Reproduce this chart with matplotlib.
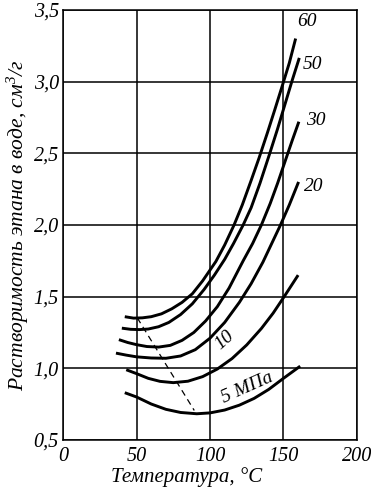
import matplotlib
matplotlib.use("Agg")
import matplotlib.pyplot as plt

plt.rcParams['font.family'] = ['Liberation Serif', 'DejaVu Serif']
plt.rcParams['mathtext.fontset'] = 'custom'
plt.rcParams['mathtext.it'] = 'Liberation Serif:italic'
plt.rcParams['mathtext.rm'] = 'Liberation Serif:italic'

# temperature (C) / solubility (cm3/g), per pressure
t_60 = [42, 48, 54, 60, 67, 74, 81, 88, 95, 104, 110, 116.4, 122, 128,
        133.5, 139, 144, 149.5, 154, 158.3]
s_60 = [1.36, 1.35, 1.352, 1.36, 1.38, 1.415, 1.46, 1.52, 1.61, 1.745,
        1.86, 2.00, 2.14, 2.31, 2.47, 2.64, 2.80, 2.98, 3.13, 3.30]

t_50 = [40, 46, 52, 58, 65, 72, 80, 88, 96, 103, 110, 116, 122.6, 128,
        134, 140.4, 146, 151, 156, 160.8]
s_50 = [1.28, 1.272, 1.27, 1.274, 1.29, 1.32, 1.375, 1.45, 1.55, 1.65,
        1.76, 1.87, 2.00, 2.12, 2.29, 2.49, 2.67, 2.84, 3.01, 3.165]

t_30 = [38, 44, 50, 57, 65, 73, 81, 89, 97, 105, 113, 122.6, 129, 135,
        141, 146, 151, 156, 160.5]
s_30 = [1.20, 1.18, 1.165, 1.152, 1.148, 1.16, 1.195, 1.25, 1.33, 1.43,
        1.56, 1.75, 1.87, 2.00, 2.15, 2.29, 2.44, 2.59, 2.72]

t_20 = [36, 43, 50, 60, 70, 80, 90, 100, 110, 120, 128, 136, 142, 148,
        154, 160.3]
s_20 = [1.106, 1.092, 1.08, 1.072, 1.07, 1.086, 1.13, 1.21, 1.32, 1.46,
        1.59, 1.74, 1.87, 2.00, 2.14, 2.30]

t_10 = [43, 50, 58, 66, 75, 85, 95, 105, 115, 125, 135, 143, 150.5, 160]
s_10 = [0.99, 0.963, 0.93, 0.909, 0.90, 0.91, 0.942, 0.995, 1.068, 1.163,
        1.278, 1.385, 1.50, 1.65]

t_5 = [42, 50, 60, 70, 80, 91, 100, 110, 120, 130, 140, 150, 161.4]
s_5 = [0.83, 0.80, 0.751, 0.714, 0.692, 0.683, 0.689, 0.709, 0.743, 0.79,
       0.853, 0.93, 1.015]

# dashed line through the minima
t_min = [50.5, 89.3]
s_min = [1.352, 0.706]

curves = [(t_60, s_60), (t_50, s_50), (t_30, s_30),
          (t_20, s_20), (t_10, s_10), (t_5, s_5)]

x_ticks = [0, 50, 100, 150, 200]
y_ticks = [0.5, 1.0, 1.5, 2.0, 2.5, 3.0, 3.5]

fig = plt.figure(figsize=(3.71, 4.93), dpi=100)
ax = fig.add_axes([0.170, 0.1075, 0.792, 0.8725])

for t, s in curves:
    ax.plot(t, s, color='black', lw=2.1, solid_capstyle='butt',
            solid_joinstyle='round')
ax.plot(t_min, s_min, color='black', lw=0.9, dashes=(5, 3.5))

ax.set_xlim(0, 200)
ax.set_ylim(0.5, 3.5)
ax.set_xticks(x_ticks)
ax.set_yticks(y_ticks)
ax.set_xticklabels([str(v) for v in x_ticks], fontsize=14.5, style='italic')
ax.set_yticklabels([f"{v:.1f}".replace('.', ',') for v in y_ticks],
                   fontsize=14.5, style='italic')
ax.tick_params(axis='x', length=0, pad=5)
ax.tick_params(axis='y', length=0, pad=3)
ax.grid(True, color='black', lw=1.1)
for sp in ax.spines.values():
    sp.set_linewidth(1.1)

ax.set_xlabel("Температура, °C", fontsize=15, style='italic', labelpad=1,
              x=0.42)
ax.set_ylabel("Растворимость этана в воде, см$^3$/г", fontsize=15.5,
              style='italic', labelpad=2)

lab = dict(fontsize=14, style='italic', ha='center', va='center')
ax.text(166, 3.42, "60", **lab)
ax.text(170, 3.12, "50", **lab)
ax.text(171.7, 2.73, "30", **lab)
ax.text(170.5, 2.27, "20", **lab)
ax.text(110, 1.195, "10", rotation=42, **lab)
ax.text(125, 0.866, "5 МПа", rotation=24, **lab)

fig.savefig("out.png", dpi=100)
